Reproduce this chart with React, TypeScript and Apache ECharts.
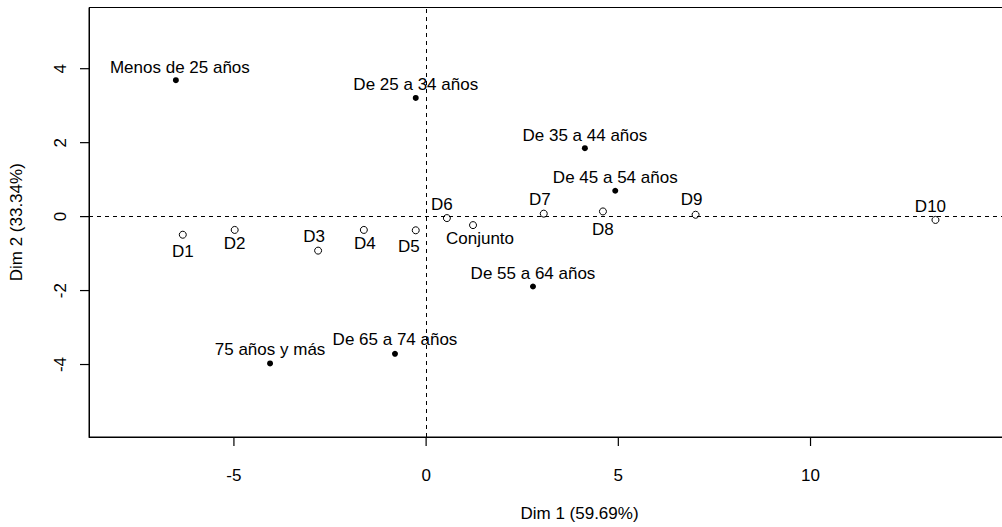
import React, { useEffect, useRef } from "react";
import * as echarts from "echarts";

// ---- data ----
const rowLabels = [
  "Menos de 25 años",
  "De 25 a 34 años",
  "De 35 a 44 años",
  "De 45 a 54 años",
  "De 55 a 64 años",
  "De 65 a 74 años",
  "75 años y más",
];
const rowDim1 = [-6.51, -0.27, 4.13, 4.92, 2.78, -0.81, -4.06];
const rowDim2 = [3.69, 3.21, 1.85, 0.7, -1.89, -3.71, -3.97];

const colLabels = ["D1", "D2", "D3", "D4", "D5", "D6", "Conjunto", "D7", "D8", "D9", "D10"];
const colDim1 = [-6.33, -4.98, -2.81, -1.62, -0.27, 0.54, 1.22, 3.06, 4.6, 7.01, 13.25];
const colDim2 = [-0.49, -0.36, -0.92, -0.36, -0.37, -0.04, -0.23, 0.08, 0.14, 0.05, -0.09];

const xTicks = [-5, 0, 5, 10];
const yTicks = [-4, -2, 0, 2, 4];

const xTitle = "Dim 1 (59.69%)";
const yTitle = "Dim 2 (33.34%)";

// ---- layout / style ----
const X_MIN = -8.77;
const X_MAX = 16.75;
const Y_MIN = -5.96;
const Y_MAX = 5.655;
const TICK_LEN = 9;

const rowLabelOffsets: [number, number][] = [
  [4, -13], [0, -13], [0, -13], [0, -13], [0, -13], [0, -14], [0, -14],
];
const colLabelOffsets: [number, number][] = [
  [0, 17], [0, 14], [-4, -14], [1, 14], [-7, 16], [-5, -14], [7, 13], [-4, -14], [0, 18], [-4, -15], [-5, -13],
];

const FONT = "'Liberation Sans', Arial, Helvetica, sans-serif";
const FS = 17;

export default function App() {
  const ref = useRef<HTMLDivElement>(null);

  useEffect(() => {
    if (!ref.current) return;
    const chart = echarts.init(ref.current, undefined, { renderer: "svg" });

    const labelBase = {
      show: true,
      position: "inside",
      formatter: "{b}",
      fontSize: FS,
      fontFamily: FONT,
      color: "#000",
      align: "center",
      verticalAlign: "middle",
      textBorderWidth: 0,
    };

    const option: any = {
      animation: false,
      backgroundColor: "#fff",
      textStyle: { fontFamily: FONT },
      grid: {
        left: 85,
        top: 7.5,
        width: 985,
        height: 434.5,
        show: true,
        borderColor: "#000",
        borderWidth: 1,
        backgroundColor: "transparent",
      },
      xAxis: {
        type: "value",
        min: X_MIN,
        max: X_MAX,
        splitLine: { show: false },
        axisLine: { show: true, onZero: false, lineStyle: { color: "#000", width: 1 } },
        axisTick: { show: false },
        axisLabel: {
          customValues: xTicks,
          fontSize: FS,
          fontFamily: FONT,
          color: "#000",
          margin: 30,
        },
        name: xTitle,
        nameLocation: "middle",
        nameGap: 68,
        nameTextStyle: { fontSize: FS, fontFamily: FONT, color: "#000" },
      },
      yAxis: {
        type: "value",
        min: Y_MIN,
        max: Y_MAX,
        splitLine: { show: false },
        axisLine: { show: true, onZero: false, lineStyle: { color: "#000", width: 1 } },
        axisTick: { show: false },
        axisLabel: {
          customValues: yTicks,
          rotate: 90,
          fontSize: FS,
          fontFamily: FONT,
          color: "#000",
          margin: 20,
        },
        name: yTitle,
        nameLocation: "middle",
        nameRotate: 90,
        nameGap: 64,
        nameTextStyle: { fontSize: FS, fontFamily: FONT, color: "#000" },
      },
      series: [
        {
          type: "scatter",
          name: "filas",
          symbol: "circle",
          symbolSize: 6,
          itemStyle: { color: "#000", opacity: 1 },
          label: labelBase,
          data: rowDim1.map((x, i) => ({
            name: rowLabels[i],
            value: [x, rowDim2[i]],
            label: { offset: rowLabelOffsets[i] },
          })),
          markLine: {
            silent: true,
            symbol: ["none", "none"],
            label: { show: false },
            lineStyle: { color: "#000", width: 1, type: [4, 4], opacity: 1 },
            data: [{ xAxis: 0 }, { yAxis: 0 }],
          },
          z: 3,
        },
        {
          type: "scatter",
          name: "columnas",
          symbol: "circle",
          symbolSize: 7,
          itemStyle: { color: "rgba(0,0,0,0)", borderColor: "#000", borderWidth: 1, opacity: 1 },
          label: labelBase,
          data: colDim1.map((x, i) => ({
            name: colLabels[i],
            value: [x, colDim2[i]],
            label: { offset: colLabelOffsets[i] },
          })),
          z: 3,
        },
      ],
    };

    chart.setOption(option);

    // tick marks, placed through the chart's own axis scales
    const tickEls: any[] = [];
    xTicks.forEach((v) => {
      const p = chart.convertToPixel({ gridIndex: 0 }, [v, Y_MIN]) as number[];
      tickEls.push({
        type: "line",
        silent: true,
        z: 50,
        shape: { x1: p[0], y1: p[1], x2: p[0], y2: p[1] + TICK_LEN },
        style: { stroke: "#000", lineWidth: 1.2 },
      });
    });
    yTicks.forEach((v) => {
      const p = chart.convertToPixel({ gridIndex: 0 }, [X_MIN, v]) as number[];
      tickEls.push({
        type: "line",
        silent: true,
        z: 50,
        shape: { x1: p[0], y1: p[1], x2: p[0] - TICK_LEN, y2: p[1] },
        style: { stroke: "#000", lineWidth: 1.2 },
      });
    });
    chart.setOption({ graphic: tickEls });

    return () => chart.dispose();
  }, []);

  return (
    <div
      style={{
        position: "fixed",
        left: 0,
        top: 0,
        width: 1002,
        height: 527,
        overflow: "hidden",
        background: "#fff",
      }}
    >
      <div ref={ref} style={{ width: 1072, height: 527 }} />
    </div>
  );
}
